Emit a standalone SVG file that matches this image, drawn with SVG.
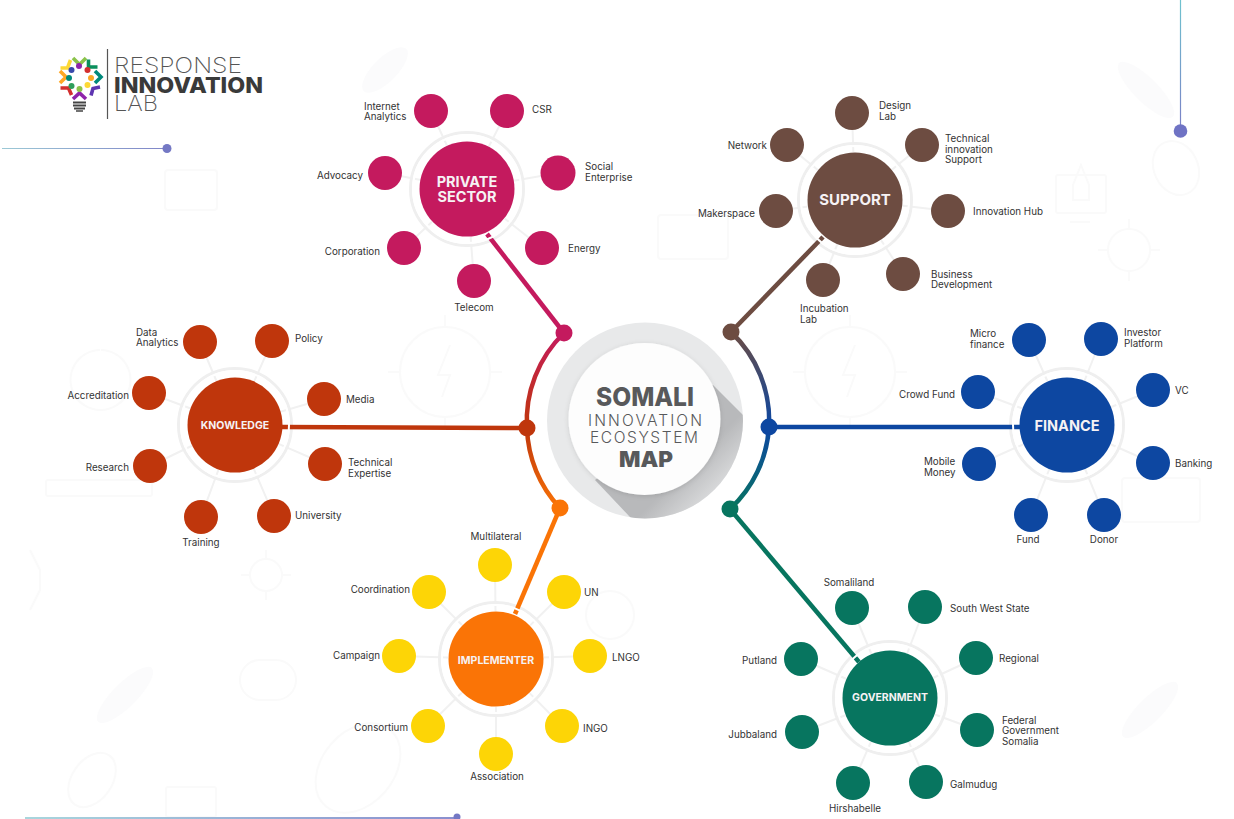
<svg xmlns="http://www.w3.org/2000/svg" width="1234" height="819" viewBox="0 0 1234 819">
<defs>
<style>
text{font-family:"Inter","Liberation Sans",sans-serif;fill:#333;font-size:9.800px}
.h{fill:#f6f2f4;font-weight:700;text-anchor:middle}
.e{text-anchor:end}
.m{text-anchor:middle}
.ring{fill:none;stroke:#efefef;stroke-width:3}
.gap{fill:none;stroke:#fff;stroke-width:2}
.sp{stroke:#f1f1f1;stroke-width:2;fill:none}
.lk{fill:none;stroke-width:4.500}
.pk{fill:#c41a5e}.br{fill:#6d4c41}.ru{fill:#bf360c}.bl{fill:#0d47a1}.ye{fill:#fdd506}.or{fill:#fa7406}.te{fill:#07755f}
.bg{fill:none;stroke:#fafafa;stroke-width:2}
.bf{fill:#fbfbfc}
.c{fill:#58595b;text-anchor:middle}
</style>
<linearGradient id="g1" gradientUnits="userSpaceOnUse" x1="564" y1="333" x2="527" y2="428"><stop offset="0" stop-color="#c41a5e"/><stop offset="1" stop-color="#bf360c"/></linearGradient>
<linearGradient id="g2" gradientUnits="userSpaceOnUse" x1="527" y1="428" x2="560" y2="508"><stop offset="0" stop-color="#bf360c"/><stop offset="1" stop-color="#fa7406"/></linearGradient>
<linearGradient id="g3" gradientUnits="userSpaceOnUse" x1="731" y1="332" x2="769" y2="427"><stop offset="0" stop-color="#6d4c41"/><stop offset="1" stop-color="#0d47a1"/></linearGradient>
<linearGradient id="g4" gradientUnits="userSpaceOnUse" x1="769" y1="427" x2="730" y2="509"><stop offset="0" stop-color="#0d47a1"/><stop offset="1" stop-color="#07755f"/></linearGradient>
<linearGradient id="sh" gradientUnits="userSpaceOnUse" x1="685" y1="470" x2="722" y2="507"><stop offset="0" stop-color="#b8b9bb"/><stop offset="1" stop-color="#e6e7e8"/></linearGradient>
<linearGradient id="lh" gradientUnits="userSpaceOnUse" x1="2" y1="0" x2="167" y2="0"><stop offset="0" stop-color="#9cc9d6"/><stop offset="1" stop-color="#8085c8"/></linearGradient>
<linearGradient id="lv" gradientUnits="userSpaceOnUse" x1="0" y1="0" x2="0" y2="131"><stop offset="0" stop-color="#6fc3cf"/><stop offset="1" stop-color="#7a7fc6"/></linearGradient>
<linearGradient id="lb" gradientUnits="userSpaceOnUse" x1="25" y1="0" x2="457" y2="0"><stop offset="0" stop-color="#a9d6dd"/><stop offset="1" stop-color="#8a8fcf"/></linearGradient>
<clipPath id="cl"><circle cx="645" cy="420.500" r="98"/></clipPath>
<filter id="soft" x="-20%" y="-20%" width="140%" height="140%"><feDropShadow dx="0" dy="1" stdDeviation="2.500" flood-color="#000" flood-opacity=".12"/></filter>
</defs>
<rect width="1234" height="819" fill="#fff"/>

<g id="background">
<circle class="bg" cx="445" cy="372" r="45"/><circle class="bg" cx="850" cy="372" r="45"/>
<path class="bg" d="M445 327v-12M445 417v12M400 372h-12M490 372h12M850 327v-12M850 417v12M805 372h-12M895 372h12M450 345l-12 30h12l-8 22M855 345l-12 30h12l-8 22"/>
<ellipse class="bg" cx="358" cy="768" rx="36" ry="50" transform="rotate(40 358 768)"/>
<ellipse class="bg" cx="92" cy="780" rx="20" ry="30" transform="rotate(35 92 780)"/>
<ellipse class="bf" cx="125" cy="695" rx="12" ry="38" transform="rotate(45 125 695)"/>
<ellipse class="bf" cx="1146" cy="90" rx="12" ry="38" transform="rotate(-45 1146 90)"/>
<ellipse class="bf" cx="1150" cy="710" rx="12" ry="38" transform="rotate(45 1150 710)"/>
<ellipse class="bf" cx="385" cy="70" rx="12" ry="30" transform="rotate(45 385 70)"/>
<ellipse class="bg" cx="1176" cy="168" rx="22" ry="28" transform="rotate(-25 1176 168)"/>
<circle class="bg" cx="1129" cy="250" r="21"/><path class="bg" d="M1129 229v-10M1129 271v10M1108 250h-10M1150 250h10"/>
<circle class="bg" cx="266" cy="575" r="16"/><path class="bg" d="M266 559v-9M266 591v9M250 575h-9M282 575h9"/>
<rect class="bg" x="1056" y="175" width="50" height="38" rx="2"/><path class="bg" d="M1081 165l8 20v15h-16v-15zM1070 222h20"/>
<rect class="bg" x="166" y="787" width="50" height="30" rx="2"/>
<rect class="bg" x="46" y="480" width="106" height="16" rx="2"/>
<rect class="bg" x="658" y="215" width="70" height="44" rx="3"/><rect class="bg" x="1122" y="478" width="78" height="44" rx="3"/>
<rect class="bg" x="165" y="170" width="52" height="40" rx="3"/><path class="bg" d="M30 550l10 20v20l-10 20M100 350a30 30 0 1 0 1 0"/>
<rect class="bg" x="240" y="660" width="56" height="40" rx="20"/><circle class="bg" cx="610" cy="615" r="24"/>
</g>

<g id="decor">
<path d="M2 148.500H167" stroke="url(#lh)" stroke-width="1.200" fill="none"/><circle cx="167" cy="148.500" r="4.500" fill="#7478c4"/>
<path d="M1180.500 0V131" stroke="url(#lv)" stroke-width="1.200" fill="none"/><circle cx="1180.500" cy="131" r="6.800" fill="#6f73c4"/>
<path d="M25 818H457" stroke="url(#lb)" stroke-width="2" fill="none"/><circle cx="457" cy="817" r="3.500" fill="#7478c4"/>
</g>

<g id="logo">
<path d="M107.500 49V119" stroke="#555" stroke-width="1.200"/>
<g fill="none" stroke-width="3.600" stroke-linecap="butt">
<path d="M73 58l6.500 6.500L86 58" stroke="#8bc34a"/><path d="M88.500 59.500v7.500h9" stroke="#0a8f5c"/><path d="M95 71l6 6-6 6" stroke="#00897b"/>
<path d="M100 87l-7 1.500-2 7" stroke="#5e35b1"/><path d="M73 99l6.500-6 6.500 6" stroke="#8e24aa"/><path d="M60.500 88h8l3 7" stroke="#d32f2f"/>
<path d="M60 71l6 6-6 6" stroke="#ffa726"/><path d="M60.500 68h7l3-8" stroke="#fdd835"/>
</g>
<circle cx="79" cy="66" r="3" fill="#8e24aa"/><circle cx="87.500" cy="70" r="3" fill="#d32f2f"/><circle cx="91" cy="78" r="3" fill="#f9a825"/><circle cx="87.500" cy="85" r="3" fill="#fdd835"/><circle cx="79.500" cy="89" r="3" fill="#8bc34a"/><circle cx="71.500" cy="86" r="3" fill="#2e9e5b"/><circle cx="69" cy="78" r="3" fill="#00897b"/><circle cx="71.500" cy="70" r="3" fill="#3949ab"/>
<path d="M73 102.500h13M73 105.500h13M74 108.500h11" stroke="#444" stroke-width="2"/><path d="M76 111h7" stroke="#444" stroke-width="1.500"/>
<text x="114" y="73" style="font-size:22px;font-weight:200;fill:#555" textLength="128" lengthAdjust="spacingAndGlyphs">RESPONSE</text>
<text x="114" y="93" style="font-size:22px;font-weight:800;fill:#3a3a3a" textLength="149" lengthAdjust="spacingAndGlyphs">INNOVATION</text>
<text x="114" y="111" style="font-size:22px;font-weight:200;fill:#555" textLength="44" lengthAdjust="spacingAndGlyphs">LAB</text>
</g>

<g id="connectors">
<g class="sp">
<path d="M431 111L467 189M507 111L467 189M558 173L467 189M542 248L467 189M474 281L467 189M404 248L467 189M385 173L467 189"/>
<path d="M852 113L855 200M922 145L855 200M948 211L855 200M903 274L855 200M823 280L855 200M776 211L855 200M787 145L855 200"/>
<path d="M200 342L235 425M272 341L235 425M324 399L235 425M325 464L235 425M274 516L235 425M201 517L235 425M150 466L235 425M149 393L235 425"/>
<path d="M1029 340L1067 425M1101 339L1067 425M1153 390L1067 425M1153 463L1067 425M1104 515L1067 425M1031 515L1067 425M979 464L1067 425M978 392L1067 425"/>
<path d="M495 565L496 659M564 592L496 659M590 656L496 659M562 726L496 659M496 754L496 659M428 726L496 659M399 656L496 659M429 592L496 659"/>
<path d="M852 608L890 698M925 607L890 698M976 658L890 698M977 730L890 698M926 782L890 698M853 783L890 698M802 732L890 698M801 659L890 698"/>
</g>
<path class="lk" d="M564 333A122 122 0 0 0 527 428" stroke="url(#g1)"/>
<path class="lk" d="M527 428A122 122 0 0 0 560 508" stroke="url(#g2)"/>
<path class="lk" d="M731 332A122 122 0 0 1 769 427" stroke="url(#g3)"/>
<path class="lk" d="M769 427A122 122 0 0 1 730 509" stroke="url(#g4)"/>
<g>
<circle cx="467" cy="189" r="48" fill="#fff"/><circle cx="855" cy="200" r="48" fill="#fff"/><circle cx="235" cy="425" r="48" fill="#fff"/><circle cx="1067" cy="425" r="48" fill="#fff"/><circle cx="496" cy="659" r="48" fill="#fff"/><circle cx="890" cy="698" r="48" fill="#fff"/>
</g>
</g>

<g id="center">
<circle cx="645" cy="420.500" r="98" fill="#e8e9ea"/>
<path d="M713 385L775 447V570H680L595 480Z" fill="url(#sh)" clip-path="url(#cl)"/>
<circle cx="644.500" cy="419" r="76" fill="#fdfdfd" filter="url(#soft)"/>
<text class="c" x="645" y="406" style="font-size:26px;font-weight:800" textLength="98" lengthAdjust="spacingAndGlyphs">SOMALI</text>
<text class="c" x="645" y="426" style="font-size:15.500px;font-weight:300" textLength="114" lengthAdjust="spacing">INNOVATION</text>
<text class="c" x="644" y="442.500" style="font-size:15.500px;font-weight:300" textLength="108" lengthAdjust="spacing">ECOSYSTEM</text>
<text class="c" x="646" y="467" style="font-size:21.500px;font-weight:900" textLength="54" lengthAdjust="spacingAndGlyphs">MAP</text>
</g>

<g id="private-sector">
<circle class="ring" cx="467" cy="189" r="56.500"/>
<path d="M564 333L487 234" stroke="#c41a5e" stroke-width="4.500"/><circle class="gap" cx="467" cy="189" r="54"/><circle class="pk" cx="564" cy="333" r="8.500"/>
<circle class="pk" cx="467" cy="189" r="47.500"/>
<text class="h" x="467" y="187" style="font-size:14.500px">PRIVATE</text><text class="h" x="467" y="202" style="font-size:14.500px">SECTOR</text>
</g>
<g id="n-internet"><circle class="pk" cx="431" cy="111" r="17"/><text x="364" y="110">Internet</text><text x="364" y="120">Analytics</text></g>
<g id="n-csr"><circle class="pk" cx="507" cy="111" r="17"/><text x="532" y="113">CSR</text></g>
<g id="n-social"><circle class="pk" cx="558" cy="173" r="17.500"/><text x="585" y="170">Social</text><text x="585" y="181">Enterprise</text></g>
<g id="n-energy"><circle class="pk" cx="542" cy="248" r="17"/><text x="568" y="252">Energy</text></g>
<g id="n-telecom"><circle class="pk" cx="474" cy="281" r="17"/><text class="m" x="474" y="311">Telecom</text></g>
<g id="n-corporation"><circle class="pk" cx="404" cy="248" r="17"/><text class="e" x="380" y="255">Corporation</text></g>
<g id="n-advocacy"><circle class="pk" cx="385" cy="173" r="17"/><text class="e" x="363" y="179">Advocacy</text></g>

<g id="support">
<circle class="ring" cx="855" cy="200" r="56.500"/>
<path d="M731 332L823 237" stroke="#6d4c41" stroke-width="4.500"/><circle class="gap" cx="855" cy="200" r="54"/><circle class="br" cx="731" cy="332" r="8.500"/>
<circle class="br" cx="855" cy="200" r="47.500"/>
<text class="h" x="855" y="205" style="font-size:15px">SUPPORT</text>
</g>
<g id="n-design"><circle class="br" cx="852" cy="113" r="17"/><text x="879" y="109">Design</text><text x="879" y="120">Lab</text></g>
<g id="n-technical"><circle class="br" cx="922" cy="145" r="17"/><text x="945" y="142">Technical</text><text x="945" y="153">innovation</text><text x="945" y="163">Support</text></g>
<g id="n-hub"><circle class="br" cx="948" cy="211" r="17"/><text x="973" y="215">Innovation Hub</text></g>
<g id="n-business"><circle class="br" cx="903" cy="274" r="17"/><text x="931" y="278">Business</text><text x="931" y="288">Development</text></g>
<g id="n-incubation"><circle class="br" cx="823" cy="280" r="17"/><text x="800" y="312">Incubation</text><text x="800" y="323">Lab</text></g>
<g id="n-makerspace"><circle class="br" cx="776" cy="211" r="17"/><text class="e" x="755" y="217">Makerspace</text></g>
<g id="n-network"><circle class="br" cx="787" cy="145" r="17"/><text class="e" x="767" y="149">Network</text></g>

<g id="knowledge">
<circle class="ring" cx="235" cy="425" r="56.500"/>
<path d="M527 428L282 427" stroke="#bf360c" stroke-width="4.500"/><circle class="gap" cx="235" cy="425" r="54"/><circle class="ru" cx="527" cy="428" r="8.500"/>
<circle class="ru" cx="235" cy="425" r="47.500"/>
<text class="h" x="235" y="429" style="font-size:10.500px">KNOWLEDGE</text>
</g>
<g id="n-data"><circle class="ru" cx="200" cy="342" r="17"/><text x="136" y="336">Data</text><text x="136" y="346">Analytics</text></g>
<g id="n-policy"><circle class="ru" cx="272" cy="341" r="17"/><text x="295" y="342">Policy</text></g>
<g id="n-media"><circle class="ru" cx="324" cy="399" r="17"/><text x="346" y="403">Media</text></g>
<g id="n-expertise"><circle class="ru" cx="325" cy="464" r="17"/><text x="348" y="466">Technical</text><text x="348" y="477">Expertise</text></g>
<g id="n-university"><circle class="ru" cx="274" cy="516" r="17"/><text x="295" y="519">University</text></g>
<g id="n-training"><circle class="ru" cx="201" cy="517" r="17"/><text class="m" x="201" y="546">Training</text></g>
<g id="n-research"><circle class="ru" cx="150" cy="466" r="17"/><text class="e" x="129" y="471">Research</text></g>
<g id="n-accreditation"><circle class="ru" cx="149" cy="393" r="17"/><text class="e" x="129" y="399">Accreditation</text></g>

<g id="finance">
<circle class="ring" cx="1067" cy="425" r="56.500"/>
<path d="M769 427L1020 427" stroke="#0d47a1" stroke-width="4.500"/><circle class="gap" cx="1067" cy="425" r="54"/><circle class="bl" cx="769" cy="427" r="8.500"/>
<circle class="bl" cx="1067" cy="425" r="47.500"/>
<text class="h" x="1067" y="431" style="font-size:14.500px">FINANCE</text>
</g>
<g id="n-micro"><circle class="bl" cx="1029" cy="340" r="17"/><text x="970" y="337">Micro</text><text x="970" y="348">finance</text></g>
<g id="n-investor"><circle class="bl" cx="1101" cy="339" r="17"/><text x="1124" y="336">Investor</text><text x="1124" y="347">Platform</text></g>
<g id="n-vc"><circle class="bl" cx="1153" cy="390" r="17"/><text x="1175" y="394">VC</text></g>
<g id="n-banking"><circle class="bl" cx="1153" cy="463" r="17"/><text x="1175" y="467">Banking</text></g>
<g id="n-donor"><circle class="bl" cx="1104" cy="515" r="17"/><text class="m" x="1104" y="543">Donor</text></g>
<g id="n-fund"><circle class="bl" cx="1031" cy="515" r="17"/><text class="m" x="1028" y="543">Fund</text></g>
<g id="n-mobile"><circle class="bl" cx="979" cy="464" r="17"/><text x="924" y="465">Mobile</text><text x="924" y="476">Money</text></g>
<g id="n-crowd"><circle class="bl" cx="978" cy="392" r="17"/><text class="e" x="955" y="398">Crowd Fund</text></g>

<g id="implementer">
<circle class="ring" cx="496" cy="659" r="56.500"/>
<path d="M560 508L515 614" stroke="#fa7406" stroke-width="4.500"/><circle class="gap" cx="496" cy="659" r="54"/><circle class="or" cx="560" cy="508" r="8.500"/>
<circle class="or" cx="496" cy="659" r="47.500"/>
<text class="h" x="496" y="664" style="font-size:10.500px">IMPLEMENTER</text>
</g>
<g id="n-multilateral"><circle class="ye" cx="495" cy="565" r="17"/><text class="m" x="496" y="540">Multilateral</text></g>
<g id="n-un"><circle class="ye" cx="564" cy="592" r="17"/><text x="584" y="596">UN</text></g>
<g id="n-lngo"><circle class="ye" cx="590" cy="656" r="17"/><text x="612" y="661">LNGO</text></g>
<g id="n-ingo"><circle class="ye" cx="562" cy="726" r="17"/><text x="583" y="732">INGO</text></g>
<g id="n-association"><circle class="ye" cx="496" cy="754" r="17"/><text class="m" x="497" y="780">Association</text></g>
<g id="n-consortium"><circle class="ye" cx="428" cy="726" r="17"/><text class="e" x="408" y="731">Consortium</text></g>
<g id="n-campaign"><circle class="ye" cx="399" cy="656" r="17"/><text class="e" x="380" y="659">Campaign</text></g>
<g id="n-coordination"><circle class="ye" cx="429" cy="592" r="17"/><text class="e" x="410" y="593">Coordination</text></g>

<g id="government">
<circle class="ring" cx="890" cy="698" r="56.500"/>
<path d="M730 509L859 662" stroke="#07755f" stroke-width="4.500"/><circle class="gap" cx="890" cy="698" r="54"/><circle class="te" cx="730" cy="509" r="8.500"/>
<circle class="te" cx="890" cy="698" r="47.500"/>
<text class="h" x="890" y="701" style="font-size:10.500px">GOVERNMENT</text>
</g>
<g id="n-somaliland"><circle class="te" cx="852" cy="608" r="17"/><text class="m" x="849" y="586">Somaliland</text></g>
<g id="n-southwest"><circle class="te" cx="925" cy="607" r="17"/><text x="950" y="612">South West State</text></g>
<g id="n-regional"><circle class="te" cx="976" cy="658" r="17"/><text x="999" y="662">Regional</text></g>
<g id="n-federal"><circle class="te" cx="977" cy="730" r="17"/><text x="1002" y="724">Federal</text><text x="1002" y="734">Government</text><text x="1002" y="745">Somalia</text></g>
<g id="n-galmudug"><circle class="te" cx="926" cy="782" r="17"/><text x="950" y="788">Galmudug</text></g>
<g id="n-hirshabelle"><circle class="te" cx="853" cy="783" r="17"/><text class="m" x="855" y="812">Hirshabelle</text></g>
<g id="n-jubbaland"><circle class="te" cx="802" cy="732" r="17"/><text class="e" x="777" y="738">Jubbaland</text></g>
<g id="n-putland"><circle class="te" cx="801" cy="659" r="17"/><text class="e" x="777" y="664">Putland</text></g>
</svg>
